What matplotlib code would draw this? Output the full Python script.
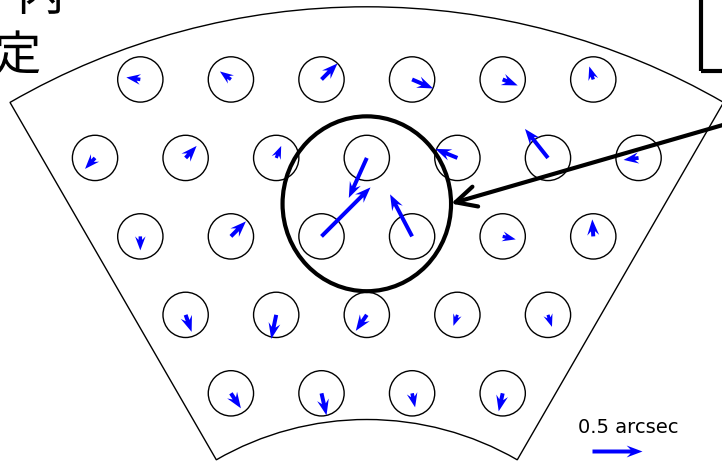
import numpy as np
import matplotlib
matplotlib.use("Agg")
import matplotlib.pyplot as plt
from matplotlib.patches import Circle, Ellipse, Wedge, Rectangle

# Fibre bundle layout: hexagonal rows, fibre pitch = 1 unit
ROW_SPACING = np.sqrt(3) / 2
row_index = [2, 1, 0, -1, -2]
row_x = [
    [-2.5, -1.5, -0.5, 0.5, 1.5, 2.5],
    [-3, -2, -1, 0, 1, 2, 3],
    [-2.5, -1.5, -0.5, 0.5, 1.5, 2.5],
    [-2, -1, 0, 1, 2],
    [-1.5, -0.5, 0.5, 1.5],
]

# Image displacement measured in each fibre [arcsec]
u_rows = [
    [-0.14, -0.11, 0.16, 0.21, 0.15, -0.04],
    [-0.10, 0.11, 0.05, -0.18, -0.22, -0.23, -0.15],
    [0.00, 0.15, 0.49, -0.22, 0.13, -0.01],
    [0.06, -0.05, -0.11, -0.04, 0.04],
    [0.10, 0.05, 0.03, -0.04],
]
v_rows = [
    [0.02, 0.08, 0.16, -0.09, -0.06, 0.13],
    [-0.11, 0.12, 0.12, -0.40, 0.09, 0.29, -0.02],
    [-0.14, 0.15, 0.49, 0.42, -0.03, 0.17],
    [-0.17, -0.24, -0.16, -0.11, -0.12],
    [-0.15, -0.22, -0.14, -0.18],
]

fiber_radius = 0.25
key_length = 0.5  # arcsec
units_per_arcsec = 1.104

# Focal-plane sector outline
sector_apex_y = -5.343
sector_r_in = 3.322
sector_r_out = 7.877

# Highlighted region around the three central fibres
region_center = (0.0, 0.36)
region_size = (1.86, 1.93)

x = np.concatenate([np.asarray(r, float) for r in row_x])
y = np.concatenate([np.full(len(r), k * ROW_SPACING) for k, r in zip(row_index, row_x)])
u = np.concatenate([np.asarray(r, float) for r in u_rows])
v = np.concatenate([np.asarray(r, float) for r in v_rows])

fig = plt.figure(figsize=(7.22, 4.61), dpi=100)
ax = fig.add_axes([0, 0, 1, 1])
ax.set_xlim(-4.049, 3.921)
ax.set_ylim(-2.479, 2.609)
ax.axis("off")

ax.add_patch(Wedge((0, sector_apex_y), sector_r_out, 60, 120,
                   width=sector_r_out - sector_r_in,
                   fill=False, edgecolor="black", lw=1.0))

for xi, yi in zip(x, y):
    ax.add_patch(Circle((xi, yi), fiber_radius, fill=False,
                        edgecolor="black", lw=1.0))

Q = ax.quiver(x, y, u, v, angles="xy", scale_units="xy",
              scale=1 / units_per_arcsec, pivot="tail", color="blue",
              width=0.0055, headwidth=3.0, headlength=4.0, headaxislength=3.0,
              zorder=3)
ax.quiverkey(Q, 2.762, -2.365, key_length, "",
             coordinates="data", labelpos="N", color="blue")
ax.text(2.883, -2.173, f"{key_length} arcsec", ha="center", va="baseline",
        fontsize=14)

ax.add_patch(Ellipse(region_center, *region_size, fill=False,
                     edgecolor="black", lw=3.0, zorder=4))

# Callout box and pointer
ax.add_patch(Rectangle((3.689, 1.822), 2.0, 2.0, fill=False,
                       edgecolor="black", lw=3.0, clip_on=False))
ax.annotate("", xy=(0.93, 0.362), xytext=(5.333, 1.635),
            xycoords="data", textcoords="data", annotation_clip=False,
            arrowprops=dict(arrowstyle="->, head_length=0.4, head_width=0.2",
                            mutation_scale=37, lw=3.0, color="black",
                            shrinkA=0, shrinkB=0))

ax.text(-0.1066, 1 - 71 / 461, "ファイバー内\nで像を測定",
        transform=ax.transAxes, ha="center", va="baseline",
        multialignment="center", fontsize=34, linespacing=1.32,
        family=["Noto Sans CJK JP", "DejaVu Sans"])

fig.savefig("out.png", dpi=100)
